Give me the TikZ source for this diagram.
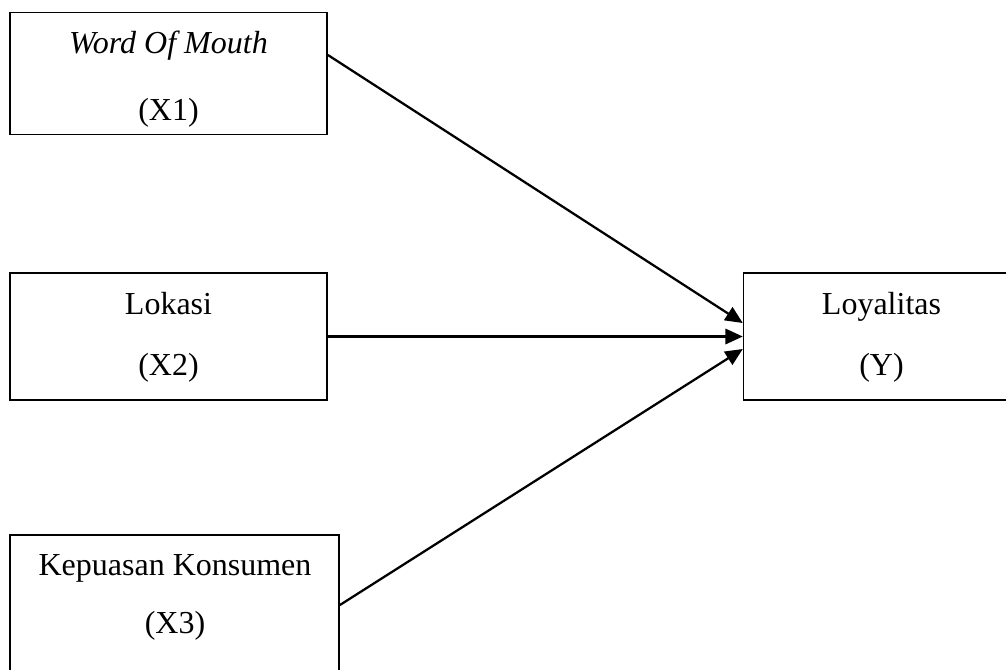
\documentclass[tikz,border=0pt]{standalone}
\usepackage{fontspec}
\setmainfont{Liberation Serif}
\usetikzlibrary{arrows.meta}
\tikzset{
  box/.style={draw=black, line width=1.1pt, rectangle, inner sep=0pt},
  lbl/.style={anchor=base, inner sep=0pt, font=\fontsize{24}{29}\selectfont},
  conn/.style={line width=1.7pt, -{Triangle[length=13pt,width=11.5pt]}}
}
\begin{document}
\begin{tikzpicture}[x=0.75pt,y=-0.75pt]
\useasboundingbox (0,0) rectangle (1006,669);
\clip (0,0) rectangle (1006,669);
% boxes
\node[box, minimum width=238pt, minimum height=91.5pt] (x1) at (168.5,73.75) {};
\node[box, minimum width=238pt, minimum height=95.25pt] (x2) at (168.5,336.5) {};
\node[box, minimum width=247pt, minimum height=108pt] (x3) at (174.5,607) {};
\node[box, minimum width=207pt, minimum height=95.25pt] (y) at (881.5,336.5) {};
% texts
\node[lbl] (t1a) at (168.5,53) {\itshape Word Of Mouth};
\node[lbl] (t1b) at (168.5,120) {(X1)};
\node[lbl] (t2a) at (168.5,314) {Lokasi};
\node[lbl] (t2b) at (168.5,375) {(X2)};
\node[lbl] (t3a) at (175,575) {Kepuasan Konsumen};
\node[lbl] (t3b) at (175,633) {(X3)};
\node[lbl] (tya) at (881.5,314) {Loyalitas};
\node[lbl] (tyb) at (881.5,375) {(Y)};
% connector endpoints
\coordinate (s1) at (x1.east |- 0,55);
\coordinate (s2) at (x2.east);
\coordinate (s3) at (x3.east |- 0,605);
\coordinate (e1) at (y.west |- 0,323);
\coordinate (e2) at (y.west |- 0,336.5);
\coordinate (e3) at (y.west |- 0,349);
\draw[conn] (s1) -- (e1);
\draw[conn] (s2) -- (e2);
\draw[conn] (s3) -- (e3);
\end{tikzpicture}
\end{document}
